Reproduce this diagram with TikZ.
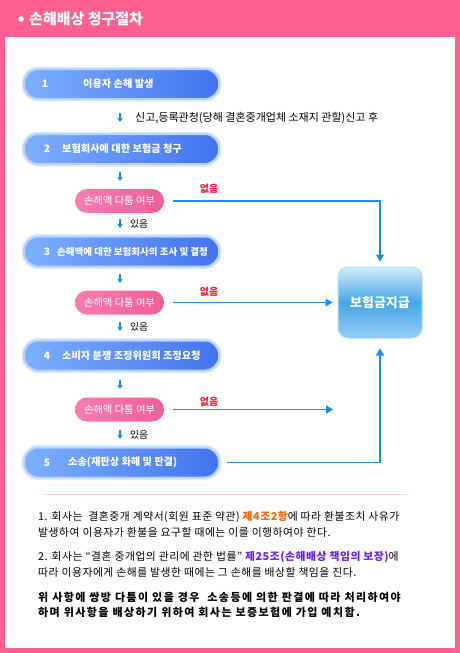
\documentclass[tikz,border=0pt]{standalone}
\usepackage{fontspec}
\setmainfont{Noto Sans CJK KR}
\newfontfamily\krpara[LetterSpace=5]{Noto Sans CJK KR}
\newfontfamily\krbold[LetterSpace=13]{Noto Sans CJK KR}
\usetikzlibrary{arrows.meta}
\definecolor{pinkbg}{RGB}{255,96,144}
\definecolor{boxL}{RGB}{125,175,255}
\definecolor{boxR}{RGB}{66,115,238}
\definecolor{glow}{RGB}{185,210,255}
\definecolor{glow2}{RGB}{222,234,255}
\definecolor{pillL}{RGB}{248,125,175}
\definecolor{pillR}{RGB}{238,95,150}
\definecolor{arr}{RGB}{25,140,240}
\definecolor{nored}{RGB}{255,30,60}
\definecolor{payTop}{RGB}{210,236,252}
\definecolor{payMid}{RGB}{70,165,232}
\definecolor{payBot}{RGB}{150,205,245}
\definecolor{payBorder}{RGB}{175,226,250}
\definecolor{sepc}{RGB}{255,205,220}
\definecolor{orangeT}{RGB}{255,100,0}
\definecolor{purpleT}{RGB}{110,30,240}
\begin{document}
\begin{tikzpicture}[x=1pt,y=-1pt,
  stepbox/.style={rounded corners=14pt, minimum width=195pt, minimum height=30pt,
    preaction={draw=glow2, line width=5pt},
    left color=boxL, right color=boxR, draw=glow, line width=2pt, inner sep=0pt},
  steptext/.style={text=white, font=\fontsize{10.2}{11}\selectfont\bfseries, inner sep=0pt},
  pillbox/.style={rounded corners=12pt, minimum width=89pt, minimum height=24pt,
    left color=pillL, right color=pillR, inner sep=0pt, text=white,
    font=\fontsize{10.3}{11}\selectfont},
  paybox/.style={rounded corners=10pt, minimum width=84pt, minimum height=71pt,
    top color=payTop, bottom color=payBot, middle color=payMid, draw=payBorder,
    line width=1pt, text=white, font=\fontsize{13}{14}\selectfont\bfseries},
  conn/.style={draw=arr, line width=1.2pt, -{Triangle[width=8pt,length=7pt]}},
  smallarr/.style={draw=arr, line width=1.2pt, -{Triangle[width=5pt,length=4pt]}},
  nolabel/.style={text=nored, font=\fontsize{10}{11}\selectfont\bfseries, inner sep=0pt},
  yeslabel/.style={text=black, font=\fontsize{9.7}{10}\selectfont, inner sep=0pt, anchor=west},
  para/.style={text=black, font=\krpara\fontsize{10.8}{12}\selectfont, inner sep=0pt, anchor=west},
  parab/.style={text=black, font=\krbold\fontsize{11}{12}\selectfont\bfseries, inner sep=0pt, anchor=west}
]
\useasboundingbox (0,0) rectangle (460,653);
% frame
\fill[pinkbg] (0,0) rectangle (460,653);
\fill[white] (5,37) rectangle (455,648);
% title
\node[circle, fill=white, inner sep=0pt, minimum size=5.5pt] (bullet) at (21,19) {};
\node[anchor=west, text=white, inner sep=0pt, font=\fontsize{15}{16}\selectfont\bfseries] (title) at (29,19) {손해배상 청구절차};

% step boxes
\node[stepbox] (b1) at (121.5,84) {};
\node[steptext] (n1) at (45,84) {1};
\node[steptext, anchor=west] (t1) at (83,84) {이용자 손해 발생};

\node[stepbox] (b2) at (121.5,149) {};
\node[steptext] (n2) at (47,149) {2};
\node[steptext, anchor=west] (t2) at (62,149) {보험회사에 대한 보험금 청구};

\node[stepbox] (b3) at (121.5,251.5) {};
\node[steptext] (n3) at (47,251.5) {3};
\node[steptext, anchor=west, font=\fontsize{9.5}{10}\selectfont\bfseries] (t3) at (57,251.5) {손해액에 대한 보험회사의 조사 및 결정};

\node[stepbox] (b4) at (121.5,355.5) {};
\node[steptext] (n4) at (47,355.5) {4};
\node[steptext, anchor=west] (t4) at (62,355.5) {소비자 분쟁 조정위원회 조정요청};

\node[stepbox] (b5) at (121.5,462.5) {};
\node[steptext] (n5) at (47,462.5) {5};
\node[steptext, anchor=west] (t5) at (68,462.5) {소송(재판상 화해 및 판결)};

% pills
\node[pillbox] (p1) at (119.5,201) {손해액 다툼 여부};
\node[pillbox] (p2) at (119.5,302.5) {손해액 다툼 여부};
\node[pillbox] (p3) at (119.5,409.5) {손해액 다툼 여부};

% payout
\node[paybox] (pay) at (380,302.5) {보험금지급};

% small arrows
\foreach \yy/\nm in {118/s1,177/s2,224/s3,279/s4,327/s5,385/s6,435/s7}{
  \coordinate (\nm a) at (120,\yy-5);
  \coordinate (\nm b) at (120,\yy+4);
  \draw[smallarr] (\nm a) -- (\nm b);
}
\node[yeslabel, font=\fontsize{11}{12}\selectfont] (note1) at (135,118) {신고,등록관청(당해 결혼중개업체 소재지 관할)신고 후};
\node[yeslabel] (y1) at (130,224) {있음};
\node[yeslabel] (y2) at (130,327) {있음};
\node[yeslabel] (y3) at (130,435) {있음};

% connectors
\draw[conn, shorten <=9pt, shorten >=5pt] (p1.east) -- (p1.east -| pay.north) -- (pay.north);
\draw[conn, shorten <=9pt, shorten >=5pt] (p2.east) -- (p2.east -| pay.west);
\coordinate (e3) at (338,409.5);
\draw[conn, shorten <=9pt, shorten >=5pt] (p3.east) -- (e3);
\draw[conn, shorten <=7pt, shorten >=10pt] (b5.east) -- (b5.east -| pay.south) -- (pay.south);

\node[nolabel] (x1) at (209,189) {없음};
\node[nolabel] (x2) at (209,292) {없음};
\node[nolabel] (x3) at (209,402) {없음};

% separator
\coordinate (sepL) at (45,494);
\coordinate (sepR) at (408,494);
\draw[sepc, line width=1pt] (sepL) -- (sepR);

% paragraph text
\node[para] (l1) at (38,517) {1. 회사는 \ 결혼중개 계약서(회원 표준 약관) \textcolor{orangeT}{\bfseries 제4조2항}에 따라 환불조치 사유가};
\node[para] (l2) at (38,532) {발생하여 이용자가 환불을 요구할 때에는 이를 이행하여야 한다.};
\node[para] (l3) at (38,557) {2. 회사는 “결혼 중개업의 관리에 관한 법률” \textcolor{purpleT}{\bfseries 제25조(손해배상 책임의 보장)}에};
\node[para] (l4) at (38,572) {따라 이용자에게 손해를 발생한 때에는 그 손해를 배상할 책임을 진다.};
\node[parab] (l5) at (38,597) {위 사항에 쌍방 다툼이 있을 경우 \ 소송등에 의한 판결에 따라 처리하여야};
\node[parab] (l6) at (38,612) {하며 위사항을 배상하기 위하여 회사는 보증보험에 가입 예치함.};
\end{tikzpicture}
\end{document}
